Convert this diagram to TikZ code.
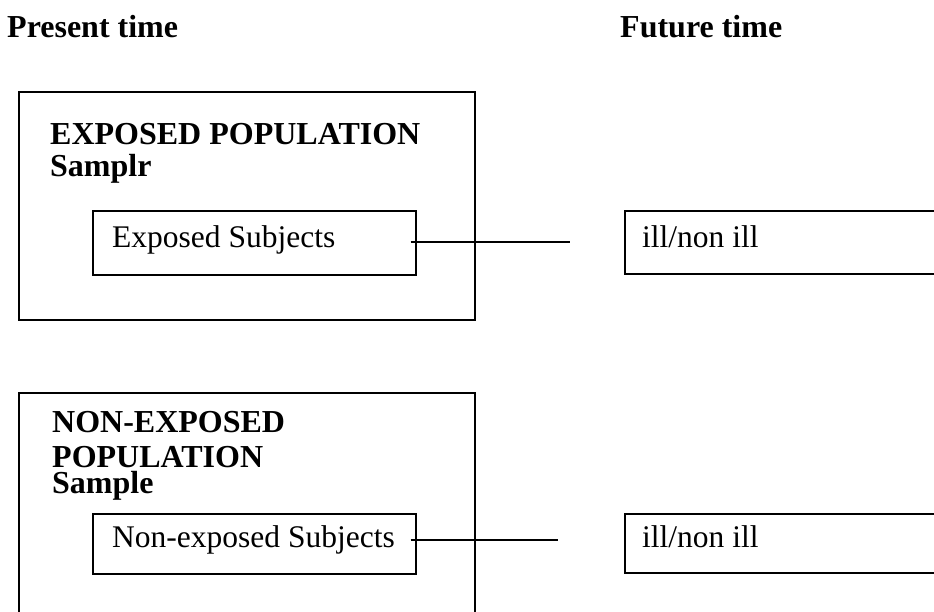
\documentclass[tikz,border=0pt]{standalone}
\usepackage{fontspec}
\setmainfont{Liberation Serif}
\begin{document}
\begin{tikzpicture}[x=1pt,y=-1pt,
  box/.style={draw,line width=1.6pt,rectangle,inner sep=0pt,anchor=north west},
  head/.style={font=\fontsize{32}{34}\selectfont\bfseries,anchor=base west,inner sep=0pt},
  txt/.style={font=\fontsize{31.5}{33}\selectfont,anchor=base west,inner sep=0pt},
  link/.style={line width=1.3pt}]
\useasboundingbox (0,0) rectangle (934,612);
\clip (0,0) rectangle (934,612);
\fill[white] (0,0) rectangle (934,612);
% column headings
\node[head] (pt) at (7,38) {Present time};
\node[head] (ft) at (620,38) {Future time};
% exposed population
\node[box,minimum width=456pt,minimum height=228pt] (pop1) at (18,91) {};
\node[head] (h1) at (50,145) {EXPOSED POPULATION};
\node[head] (s1) at (50,177) {Samplr};
\node[box,minimum width=323pt,minimum height=64pt] (es) at (92,210) {};
\node[txt] (est) at (112,248) {Exposed Subjects};
\node[box,minimum width=400pt,minimum height=63pt] (ill1) at (624,210) {};
\node[txt] (ill1t) at (642,248) {ill/non ill};
\coordinate (e1) at (570,242);
\draw[link] ([xshift=-6pt]es.east |- e1) -- (e1);
% non-exposed population
\node[box,minimum width=456pt,minimum height=300pt] (pop2) at (18,392) {};
\node[head] (h2a) at (52,432) {NON-EXPOSED};
\node[head] (h2b) at (52,467) {POPULATION};
\node[head] (s2) at (52,493) {Sample};
\node[box,minimum width=323pt,minimum height=60pt] (nes) at (92,513) {};
\node[txt] (nest) at (112,547) {Non-exposed Subjects};
\node[box,minimum width=400pt,minimum height=59pt] (ill2) at (624,513) {};
\node[txt] (ill2t) at (642,547) {ill/non ill};
\coordinate (e2) at (558,540);
\draw[link] ([xshift=-6pt]nes.east |- e2) -- (e2);
\end{tikzpicture}
\end{document}
